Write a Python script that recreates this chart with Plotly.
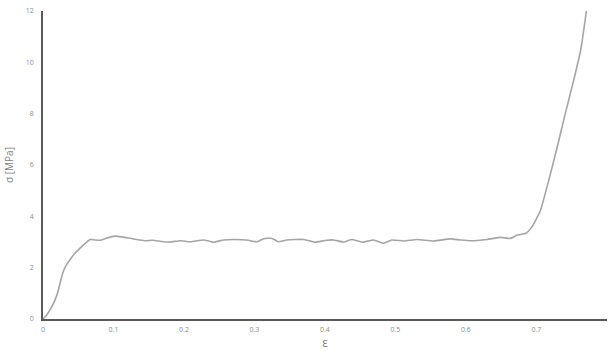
import plotly.graph_objects as go

# Compression stress-strain curve
strain = [0.0, 0.005, 0.012, 0.020, 0.028, 0.033, 0.038, 0.045, 0.053, 0.060, 0.067,
          0.074, 0.081, 0.090, 0.102, 0.112, 0.128, 0.145, 0.156, 0.168, 0.180, 0.195,
          0.209, 0.228, 0.242, 0.256, 0.270, 0.289, 0.304, 0.313, 0.325, 0.334, 0.346,
          0.370, 0.386, 0.400, 0.412, 0.427, 0.438, 0.453, 0.469, 0.483, 0.495, 0.512,
          0.531, 0.554, 0.578, 0.592, 0.607, 0.630, 0.649, 0.663, 0.673, 0.685, 0.694,
          0.700, 0.706, 0.718, 0.730, 0.741, 0.752, 0.763, 0.771]
stress = [0.0, 0.15, 0.45, 0.95, 1.79, 2.10, 2.30, 2.55, 2.77, 2.95, 3.10,
          3.08, 3.07, 3.15, 3.23, 3.20, 3.12, 3.05, 3.07, 3.02, 3.00, 3.05,
          3.01, 3.08, 2.99, 3.08, 3.10, 3.08, 3.01, 3.13, 3.14, 3.01, 3.08,
          3.10, 2.99, 3.06, 3.08, 3.00, 3.10, 2.99, 3.08, 2.95, 3.08, 3.04,
          3.10, 3.04, 3.12, 3.08, 3.05, 3.10, 3.18, 3.14, 3.27, 3.34, 3.60,
          3.90, 4.25, 5.45, 6.75, 8.00, 9.20, 10.50, 12.0]

x_ticks = [0, 0.1, 0.2, 0.3, 0.4, 0.5, 0.6, 0.7, 0.8]
x_tick_text = ["0", "0.1", "0.2", "0.3", "0.4", "0.5", "0.6", "0.7", "0.8"]
y_ticks = [0, 2, 4, 6, 8, 10, 12]

fig = go.Figure(go.Scatter(
    x=strain, y=stress, mode="lines",
    line=dict(color="#a5a5a5", width=1.6, shape="spline", smoothing=0.5),
    hoverinfo="skip", cliponaxis=False,
))

axis_line = "#595959"
font_family = "Open Sans, Liberation Sans, sans-serif"
tick_font = dict(family=font_family, size=7, color="#8c8c8c")

fig.update_layout(
    width=608, height=351,
    margin=dict(l=43, r=1, t=11, b=32),
    paper_bgcolor="white", plot_bgcolor="white",
    showlegend=False,
    xaxis=dict(
        range=[0, 0.8002], tickvals=x_ticks, ticktext=x_tick_text,
        showgrid=False, zeroline=False,
        showline=True, linecolor=axis_line, linewidth=1.5,
        ticks="", tickfont=tick_font, ticklabelstandoff=3,
        title=dict(text="ε", font=dict(family=font_family, size=12, color="#7f7f7f"),
                   standoff=6),
    ),
    yaxis=dict(
        range=[0, 12], tickvals=y_ticks,
        showgrid=False, zeroline=False,
        showline=True, linecolor=axis_line, linewidth=1.5,
        ticks="", tickfont=tick_font, ticklabelstandoff=6,
        title=dict(text="σ [MPa]", font=dict(family=font_family, size=10, color="#7f7f7f"),
                   standoff=10),
    ),
)

fig.write_html("out.html")
